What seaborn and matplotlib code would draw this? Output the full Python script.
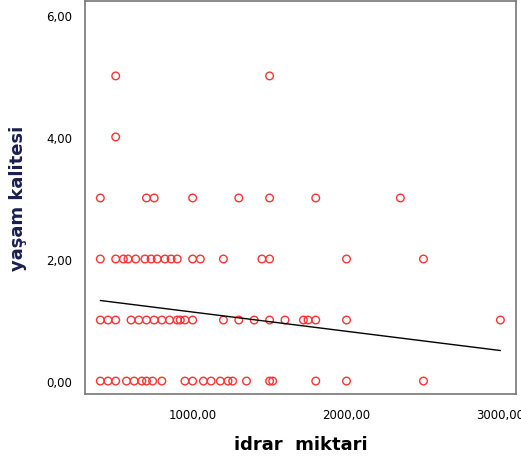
import numpy as np
import pandas as pd
import matplotlib
matplotlib.use("Agg")
import matplotlib.pyplot as plt
import seaborn as sns

# urine volume (idrar miktari) per quality-of-life score (yasam kalitesi)
x_score0 = [400, 450, 500, 570, 620, 670, 700, 740, 800,
            950, 1000, 1070, 1120, 1180, 1230, 1260, 1350, 1500, 1520, 1800, 2000, 2500]
x_score1 = [400, 450, 500, 600, 650, 700, 750, 800, 850, 900, 920, 950, 1000,
            1200, 1300, 1400, 1500, 1600, 1720, 1750, 1800, 2000, 3000]
x_score2 = [400, 500, 550, 580, 630, 690, 730, 770, 820, 860, 900,
            1000, 1050, 1200, 1450, 1500, 2000, 2500]
x_score3 = [400, 700, 750, 1000, 1300, 1500, 1800, 2350]
x_score4 = [500]
x_score5 = [500, 1500]

# fit line as shown in the chart (ends)
fit_x = [400, 3000]
fit_y = [1.32, 0.50]

groups = [x_score0, x_score1, x_score2, x_score3, x_score4, x_score5]
df = pd.DataFrame({
    "idrar": [v for g in groups for v in g],
    "yasam": [float(i) for i, g in enumerate(groups) for _ in g],
})

sns.set_style("white")
fig = plt.figure(figsize=(5.21, 4.64), dpi=100)
ax = fig.add_axes([0.163, 0.149, 0.827, 0.847])

sns.scatterplot(data=df, x="idrar", y="yasam", ax=ax, marker="o",
                facecolors="none", edgecolor="#ff3333", linewidth=1.0, s=30)
sns.lineplot(x=fit_x, y=fit_y, ax=ax, color="black", linewidth=1.0)

ax.set_xlim(300, 3100)
ax.set_ylim(-0.21, 6.23)
ax.set_xticks([1000, 2000, 3000])
ax.set_xticklabels(["1000,00", "2000,00", "3000,00"])
ax.set_yticks([0, 2, 4, 6])
ax.set_yticklabels(["0,00", "2,00", "4,00", "6,00"])
ax.tick_params(axis="y", direction="out", length=6, width=2, colors="black",
               labelsize=8.5, pad=3)
ax.tick_params(axis="x", direction="out", length=4, width=1.5, colors="black",
               labelsize=8.5, pad=6)
for s in ax.spines.values():
    s.set_color("#777777")
    s.set_linewidth(1.2)

ax.set_xlabel("idrar  miktari", fontsize=13, fontweight="bold", color="black", labelpad=10)
ax.set_ylabel("yaşam kalitesi", fontsize=13, fontweight="bold", color="#1a1f50", labelpad=14)

fig.savefig("out.png", dpi=100)
